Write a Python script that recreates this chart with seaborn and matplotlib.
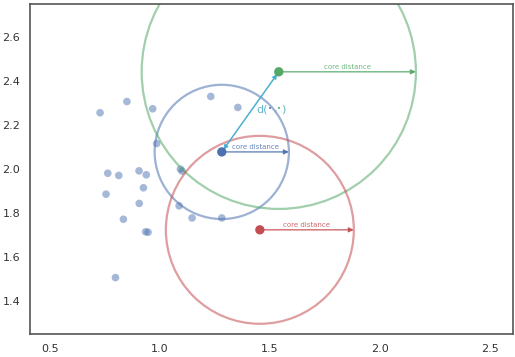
import pandas as pd
import seaborn as sns
import matplotlib.pyplot as plt
from matplotlib.patches import Circle

# background points
pts_x = [0.729, 0.851, 0.968, 1.232, 1.355, 0.986, 0.764, 0.814, 0.906, 0.939,
         1.094, 1.102, 0.926, 0.756, 0.907, 1.088, 1.147, 1.282, 0.835, 0.936,
         0.947, 0.799]
pts_y = [2.255, 2.306, 2.273, 2.329, 2.279, 2.115, 1.980, 1.970, 1.991, 1.973,
         1.999, 1.990, 1.914, 1.885, 1.843, 1.832, 1.777, 1.777, 1.771, 1.714,
         1.712, 1.506]

# core points with their core distances
core_names = ['blue', 'green', 'red']
core_x = [1.282, 1.541, 1.455]
core_y = [2.077, 2.441, 1.723]
core_dist = [0.305, 0.623, 0.427]
core_colors = ['#4c72b0', '#55a868', '#c44e52']

sns.set_style('white')
plt.rcParams['font.family'] = ['DejaVu Sans']

fig, ax = plt.subplots(figsize=(5.15, 3.57), dpi=100)
fig.subplots_adjust(left=0.058, right=0.996, top=0.992, bottom=0.062)

pts = pd.DataFrame({'x': pts_x, 'y': pts_y})
sns.scatterplot(data=pts, x='x', y='y', color='#4c72b0', alpha=0.5,
                s=30, edgecolor='none', ax=ax)

cores = pd.DataFrame({'x': core_x, 'y': core_y, 'name': core_names})
sns.scatterplot(data=cores, x='x', y='y', hue='name',
                palette=dict(zip(core_names, core_colors)), s=45,
                edgecolor='none', legend=False, ax=ax, zorder=5)

for cx, cy, r, c in zip(core_x, core_y, core_dist, core_colors):
    ax.add_patch(Circle((cx, cy), r, fill=False, color=c, alpha=0.55, lw=1.6))
    # core distance arrow
    ax.annotate('', xy=(cx + r, cy), xytext=(cx, cy),
                arrowprops=dict(arrowstyle='-|>', color=c, lw=1, alpha=0.85,
                                mutation_scale=7, shrinkA=0, shrinkB=0))
    ax.text(cx + r / 2, cy + 0.008, 'core distance', color=c, fontsize=5,
            ha='center', va='bottom', alpha=0.85)

# mutual reachability line between blue and green cores
ax.annotate('', xy=(core_x[1], core_y[1]), xytext=(core_x[0], core_y[0]),
            arrowprops=dict(arrowstyle='<|-|>', color='#4ab0d0', lw=1.1,
                            mutation_scale=6, shrinkA=2, shrinkB=2))
ty = 2.27
ax.text(1.438, ty, 'd(', color='#64b5cd', fontsize=8, ha='left', va='center')
ax.text(1.493, ty, '•', color=core_colors[0], fontsize=5, ha='left', va='center')
ax.text(1.514, ty, ',', color='#64b5cd', fontsize=8, ha='left', va='center')
ax.text(1.532, ty, '•', color=core_colors[1], fontsize=5, ha='left', va='center')
ax.text(1.553, ty, ')', color='#64b5cd', fontsize=8, ha='left', va='center')

ax.set_xlim(0.41, 2.605)
ax.set_ylim(1.25, 2.75)
ax.set_aspect('equal', adjustable='box')
ax.set_xticks([0.5, 1.0, 1.5, 2.0, 2.5])
ax.set_yticks([1.4, 1.6, 1.8, 2.0, 2.2, 2.4, 2.6])
ax.set_xlabel('')
ax.set_ylabel('')
ax.tick_params(labelsize=8, colors='#333333')
for sp in ax.spines.values():
    sp.set_color('#555555')
    sp.set_linewidth(1.2)

fig.savefig('out.png', dpi=100)
